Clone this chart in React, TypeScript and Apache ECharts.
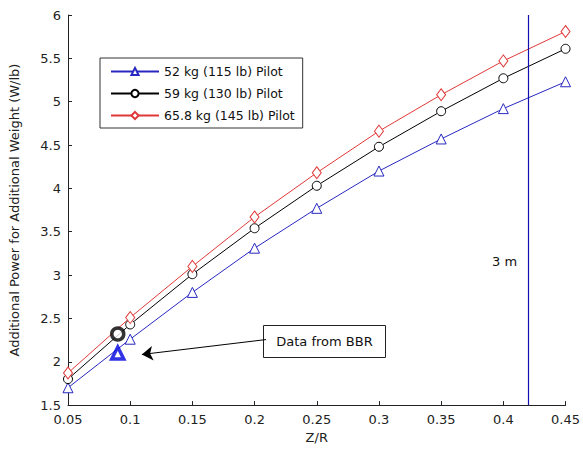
import React, { useEffect, useRef } from "react";
import * as echarts from "echarts";

const zr = [0.05, 0.1, 0.15, 0.2, 0.25, 0.3, 0.35, 0.4, 0.45];
const pilot52 = [1.7, 2.26, 2.8, 3.31, 3.77, 4.2, 4.57, 4.92, 5.23];
const pilot59 = [1.8, 2.43, 3.01, 3.54, 4.03, 4.48, 4.89, 5.27, 5.61];
const pilot658 = [1.87, 2.51, 3.1, 3.67, 4.18, 4.66, 5.08, 5.47, 5.81];
const seriesNames = ["52 kg (115 lb) Pilot", "59 kg (130 lb) Pilot", "65.8 kg (145 lb) Pilot"];
const bbrX = 0.09;
const bbr52 = 2.1;
const bbr59 = 2.32;
const threeMeterZR = 0.4167;
const arrowFrom = [0.2092, 2.256];
const arrowTo = [0.1094, 2.084];

const FONT = "DejaVu Sans";
const BLUE = "#2828c0";
const RED = "#e03838";
const BLACK = "#000000";

export default function App() {
  const ref = useRef<HTMLDivElement>(null);
  useEffect(() => {
    if (!ref.current) return;
    const chart = echarts.init(ref.current, null, { renderer: "svg" });
    const pairs = (ys: number[]) => zr.map((x, i) => [x, ys[i]]);
    const axisCommon = {
      axisLine: { show: true, lineStyle: { color: "#222", width: 1 } },
      axisTick: { show: true, inside: true, length: 4, lineStyle: { color: "#222" } },
      splitLine: { show: false },
      axisLabel: { color: "#222", fontFamily: FONT, fontSize: 13 },
      nameTextStyle: { color: "#222", fontFamily: FONT, fontSize: 13 },
    };
    chart.setOption({
      animation: false,
      backgroundColor: "#ffffff",
      grid: { left: 62, right: 16, top: 15, bottom: 41, containLabel: false },
      xAxis: {
        type: "value",
        min: 0.05,
        max: 0.45,
        interval: 0.05,
        name: "Z/R",
        nameLocation: "middle",
        nameGap: 21,
        ...axisCommon,
        axisLabel: { ...axisCommon.axisLabel, margin: 8 },
      },
      yAxis: {
        type: "value",
        min: 1.5,
        max: 6,
        interval: 0.5,
        name: "Additional Power for Additional Weight (W/lb)",
        nameLocation: "middle",
        nameGap: 47,
        ...axisCommon,
        axisLabel: { ...axisCommon.axisLabel, margin: 7 },
      },
      legend: {
        orient: "vertical",
        left: 100,
        top: 58,
        padding: [7, 8, 6, 10],
        borderColor: "#333",
        borderWidth: 1,
        backgroundColor: "#fff",
        itemWidth: 48,
        itemHeight: 9,
        itemGap: 9,
        textStyle: { color: "#111", fontFamily: FONT, fontSize: 12.5 },
        data: seriesNames,
      },
      series: [
        {
          name: seriesNames[0],
          type: "line",
          data: pairs(pilot52),
          symbol: "triangle",
          symbolSize: 10,
          showAllSymbol: true,
          lineStyle: { color: BLUE, width: 1 },
          itemStyle: { color: "#fff", borderColor: BLUE, borderWidth: 1 },
          markLine: {
            silent: true,
            symbol: "none",
            label: { show: false },
            lineStyle: { color: "#1010b0", width: 1.2, type: "solid" },
            data: [{ xAxis: threeMeterZR }],
          },
        },
        {
          name: seriesNames[1],
          type: "line",
          data: pairs(pilot59),
          symbol: "circle",
          symbolSize: 9,
          lineStyle: { color: BLACK, width: 1 },
          itemStyle: { color: "#fff", borderColor: BLACK, borderWidth: 1 },
        },
        {
          name: seriesNames[2],
          type: "line",
          data: pairs(pilot658),
          symbol: "diamond",
          symbolSize: [9, 12],
          lineStyle: { color: RED, width: 1 },
          itemStyle: { color: "#fff", borderColor: RED, borderWidth: 1 },
        },
        {
          name: "BBR 52",
          type: "scatter",
          data: [[bbrX, bbr52]],
          symbol: "triangle",
          symbolSize: 12,
          z: 5,
          itemStyle: { color: "#fff", borderColor: "#0000e0", borderWidth: 3.5 },
        },
        {
          name: "BBR 59",
          type: "scatter",
          data: [[bbrX, bbr59]],
          symbol: "circle",
          symbolSize: 12,
          z: 5,
          itemStyle: { color: "#fff", borderColor: "#000", borderWidth: 3.5 },
        },
        {
          name: "arrow",
          type: "line",
          data: [],
          markLine: {
            silent: true,
            symbol: ["none", "arrow"],
            symbolSize: 11,
            label: { show: false },
            lineStyle: { color: "#000", width: 1, type: "solid" },
            itemStyle: { color: "#000" },
            data: [[{ coord: arrowFrom }, { coord: arrowTo }]],
          },
        },
      ],
      graphic: [
        {
          type: "group",
          left: 263,
          top: 325,
          children: [
            {
              type: "rect",
              shape: { x: 0, y: 0, width: 122, height: 32 },
              style: { fill: "#fff", stroke: "#222", lineWidth: 1 },
            },
            {
              type: "text",
              x: 61,
              y: 16,
              style: {
                text: "Data from BBR",
                fill: "#111",
                font: `13px "${FONT}"`,
                align: "center",
                verticalAlign: "middle",
              },
            },
          ],
        },
        {
          type: "text",
          left: 492,
          top: 255,
          style: { text: "3 m", fill: "#111", font: `13px "${FONT}"` },
        },
      ],
    });
    return () => chart.dispose();
  }, []);
  return (
    <div
      ref={ref}
      style={{ position: "absolute", left: 0, top: 0, width: 583, height: 449 }}
    />
  );
}
